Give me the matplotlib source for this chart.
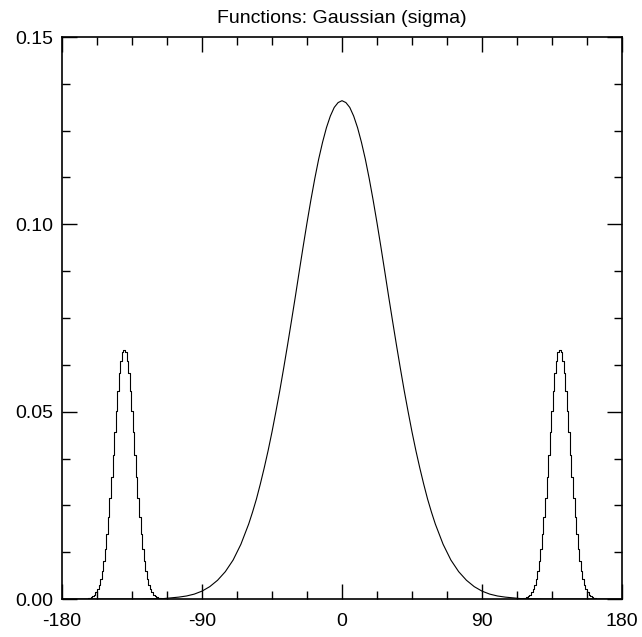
import matplotlib
matplotlib.use("Agg")
import matplotlib.pyplot as plt
from matplotlib.ticker import MultipleLocator, FixedLocator

plt.rcParams['font.family'] = ['Liberation Sans', 'DejaVu Sans']

# Central smooth curve
center_x = [-180, -170, -160, -150, -140, -130, -120, -115, -110, -105, -100, -95, -90, -85, -80,
            -75, -70, -65, -60, -57.5, -55, -52.5, -50, -47.5, -45, -42.5, -40, -37.5, -35,
            -32.5, -30, -27.5, -25, -22.5, -20, -17.5, -15, -12.5, -10, -7.5, -5, -2.5, 0,
            2.5, 5, 7.5, 10, 12.5, 15, 17.5, 20, 22.5, 25, 27.5, 30, 32.5, 35, 37.5, 40,
            42.5, 45, 47.5, 50, 52.5, 55, 57.5, 60, 65, 70, 75, 80, 85, 90, 95, 100, 105,
            110, 115, 120, 130, 140, 150, 160, 170, 180]
center_y = [0.0, 0.0, 0.0, 0.0, 0.0, 0.0, 0.0001, 0.0001, 0.0003, 0.0005, 0.0008, 0.0013, 0.0021,
            0.0033, 0.0050, 0.0073, 0.0104, 0.0146, 0.0200, 0.0232, 0.0267, 0.0307, 0.0350,
            0.0396, 0.0446, 0.0500, 0.0556, 0.0616, 0.0678, 0.0742, 0.0807, 0.0874, 0.0940,
            0.1004, 0.1065, 0.1122, 0.1174, 0.1219, 0.1258, 0.1289, 0.1312, 0.1325, 0.1330,
            0.1325, 0.1312, 0.1289, 0.1258, 0.1219, 0.1174, 0.1122, 0.1065, 0.1004, 0.0940,
            0.0874, 0.0807, 0.0742, 0.0678, 0.0616, 0.0556, 0.0500, 0.0446, 0.0396, 0.0350,
            0.0307, 0.0267, 0.0232, 0.0200, 0.0146, 0.0104, 0.0073, 0.0050, 0.0033, 0.0021,
            0.0013, 0.0008, 0.0005, 0.0003, 0.0001, 0.0001, 0.0, 0.0, 0.0, 0.0, 0.0, 0.0]

# Side peaks (stepped histogram, 1-degree bins)
left_x = list(range(-166, -113))
left_y = [0.0, 0.0, 0.0001, 0.0002, 0.0003, 0.0005, 0.0008, 0.0012, 0.0018, 0.0027, 0.0038,
          0.0054, 0.0075, 0.0101, 0.0134, 0.0173, 0.0218, 0.0270, 0.0326, 0.0385, 0.0445,
          0.0503, 0.0556, 0.0602, 0.0636, 0.0658, 0.0665, 0.0658, 0.0636, 0.0602, 0.0556,
          0.0503, 0.0445, 0.0385, 0.0326, 0.0270, 0.0218, 0.0173, 0.0134, 0.0101, 0.0075,
          0.0054, 0.0038, 0.0027, 0.0018, 0.0012, 0.0008, 0.0005, 0.0003, 0.0002, 0.0001,
          0.0, 0.0]
right_x = list(range(114, 167))
right_y = [0.0, 0.0, 0.0001, 0.0002, 0.0003, 0.0005, 0.0008, 0.0012, 0.0018, 0.0027, 0.0038,
           0.0054, 0.0075, 0.0101, 0.0134, 0.0173, 0.0218, 0.0270, 0.0326, 0.0385, 0.0445,
           0.0503, 0.0556, 0.0602, 0.0636, 0.0658, 0.0665, 0.0658, 0.0636, 0.0602, 0.0556,
           0.0503, 0.0445, 0.0385, 0.0326, 0.0270, 0.0218, 0.0173, 0.0134, 0.0101, 0.0075,
           0.0054, 0.0038, 0.0027, 0.0018, 0.0012, 0.0008, 0.0005, 0.0003, 0.0002, 0.0001,
           0.0, 0.0]

x_ticks = [-180, -90, 0, 90, 180]
y_ticks = [0.00, 0.05, 0.10, 0.15]
y_tick_labels = ['0.00', '0.05', '0.10', '0.15']
title = 'Functions: Gaussian (sigma)'

fig = plt.figure(figsize=(6.42, 6.37), dpi=100)
ax = fig.add_axes([62/642, 38/637, 560/642, 562/637])

ax.plot(center_x, center_y, color='black', lw=0.8)
ax.plot(left_x, left_y, color='black', lw=0.8, drawstyle='steps-mid')
ax.plot(right_x, right_y, color='black', lw=0.8, drawstyle='steps-mid')

ax.set_xlim(-180, 180)
ax.set_ylim(0, 0.15)
ax.xaxis.set_major_locator(FixedLocator(x_ticks))
ax.xaxis.set_minor_locator(MultipleLocator(22.5))
ax.yaxis.set_major_locator(FixedLocator(y_ticks))
ax.set_yticklabels(y_tick_labels)
ax.yaxis.set_minor_locator(MultipleLocator(0.0125))
ax.set_xticklabels([str(v) for v in x_ticks])

ax.tick_params(which='both', direction='in', top=True, right=True, width=1.0,
               labelsize=14, colors='black')
ax.tick_params(which='major', length=11)
ax.tick_params(which='minor', length=5.5)
ax.tick_params(axis='x', which='major', pad=10)
ax.tick_params(axis='y', which='major', pad=6)
for s in ax.spines.values():
    s.set_linewidth(1.2)

ax.set_title(title, fontsize=14, pad=10)

fig.savefig('out.png', dpi=100)
